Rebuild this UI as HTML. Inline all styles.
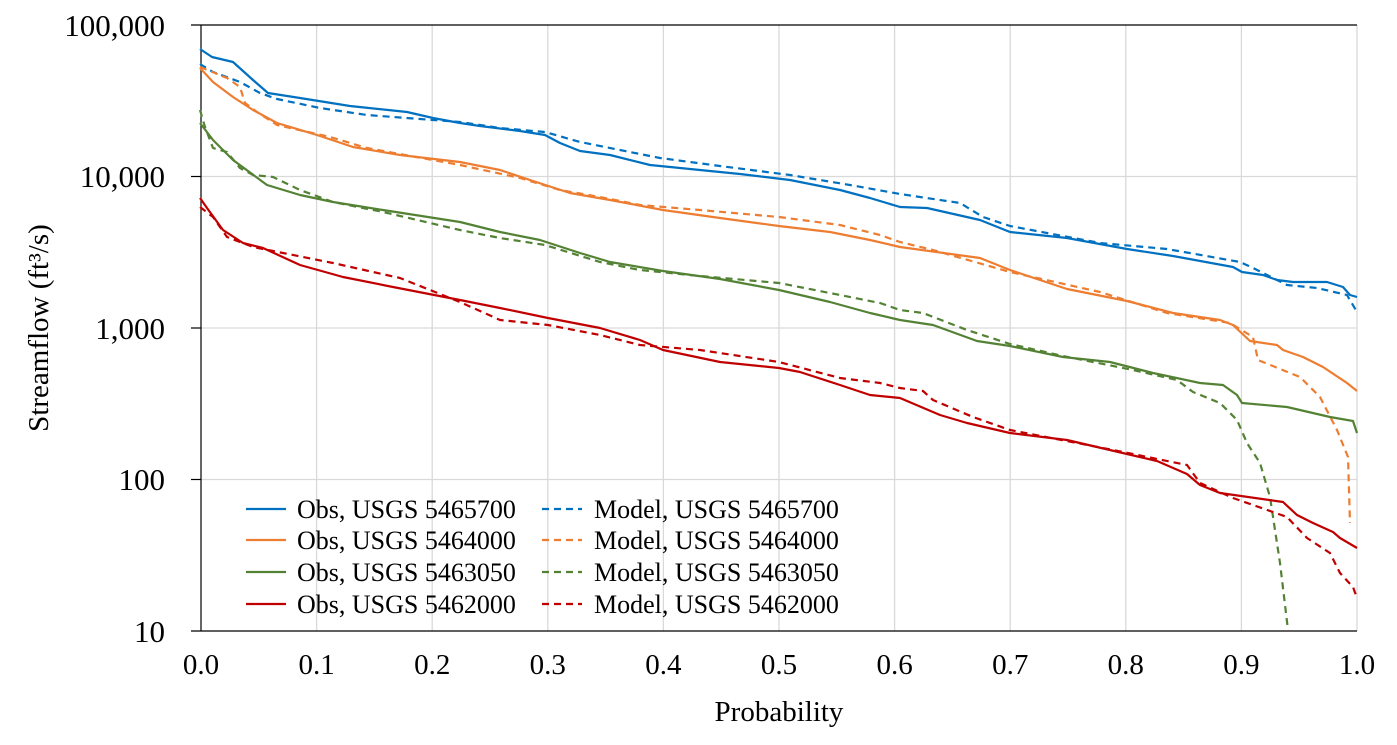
<!DOCTYPE html>
<html><head><meta charset="utf-8"><style>body{margin:0;background:#fff}svg{display:block}text{font-family:"Liberation Serif",serif;fill:#000}</style></head><body>
<svg width="1397" height="745" viewBox="0 0 1397 745" xmlns="http://www.w3.org/2000/svg">
<g stroke="#d9d9d9" stroke-width="1.3">
<line x1="316.6" y1="25" x2="316.6" y2="631"/><line x1="432.2" y1="25" x2="432.2" y2="631"/><line x1="547.8" y1="25" x2="547.8" y2="631"/><line x1="663.4" y1="25" x2="663.4" y2="631"/><line x1="779" y1="25" x2="779" y2="631"/><line x1="894.6" y1="25" x2="894.6" y2="631"/><line x1="1010.2" y1="25" x2="1010.2" y2="631"/><line x1="1125.8" y1="25" x2="1125.8" y2="631"/><line x1="1241.4" y1="25" x2="1241.4" y2="631"/><line x1="1357" y1="25" x2="1357" y2="631"/>
<line x1="201" y1="176.5" x2="1357" y2="176.5"/><line x1="201" y1="328" x2="1357" y2="328"/><line x1="201" y1="479.5" x2="1357" y2="479.5"/>
</g>
<g stroke="#000" stroke-width="1.2"><line x1="191" y1="25" x2="1357" y2="25"/><line x1="201" y1="25" x2="201" y2="631"/><line x1="191" y1="631" x2="1357" y2="631"/>
<line x1="191" y1="176.5" x2="201" y2="176.5"/><line x1="191" y1="328" x2="201" y2="328"/><line x1="191" y1="479.5" x2="201" y2="479.5"/></g>
<g font-size="31" text-anchor="end">
<text x="165" y="36">100,000</text><text x="165" y="187">10,000</text><text x="165" y="339">1,000</text><text x="165" y="490">100</text><text x="165" y="642">10</text></g>
<g font-size="29" text-anchor="middle">
<text x="201" y="674">0.0</text><text x="316.6" y="674">0.1</text><text x="432.2" y="674">0.2</text><text x="547.8" y="674">0.3</text><text x="663.4" y="674">0.4</text><text x="779" y="674">0.5</text><text x="894.6" y="674">0.6</text><text x="1010.2" y="674">0.7</text><text x="1125.8" y="674">0.8</text><text x="1241.4" y="674">0.9</text><text x="1357" y="674">1.0</text>
<text x="779" y="721">Probability</text>
<text transform="translate(48,328) rotate(-90)">Streamflow (ft³/s)</text></g>
<g fill="none" stroke-width="2.2" stroke-linejoin="round">
<polyline stroke="#0070c0" points="200,49 212,57 233,62 253,80 268,93 300,98 350,106 407,112 433,118 460,123 480,126 520,131 545,135 560,143 580,151 610,155 650,165 700,170 740,174 790,180 840,190 870,198 900,207 927,208 980,220 1010,232 1067,238 1127,249 1173,256 1233,267 1242,272 1263,275 1277,280 1293,282 1327,282 1343,287 1350,295 1357,297"/>
<polyline stroke="#0070c0" stroke-dasharray="7,5" points="200,64 213,72 240,82 260,93 277,99 320,108 367,115 433,120 460,122 500,128 545,132 580,142 620,150 660,158 720,166 790,175 850,185 900,194 960,203 983,217 1010,226 1100,243 1167,249 1240,262 1253,268 1273,278 1287,285 1317,288 1347,295 1357,312"/>
<polyline stroke="#ed7d31" points="200,68 213,82 233,97 253,110 277,123 317,135 353,147 400,155 460,162 500,170 530,180 570,193 610,200 663,210 720,218 779,226 830,232 870,240 900,247 980,258 1010,270 1067,289 1127,301 1173,313 1220,320 1233,325 1250,341 1277,345 1283,350 1303,357 1323,367 1347,383 1357,391"/>
<polyline stroke="#ed7d31" stroke-dasharray="7,5" points="200,67 227,78 240,87 245,103 257,112 277,125 330,137 367,148 460,165 520,178 560,190 600,197 640,205 700,210 779,217 840,225 880,235 900,242 933,250 1010,272 1100,292 1167,313 1230,323 1253,337 1258,360 1300,377 1320,397 1337,430 1348,457 1350,523"/>
<polyline stroke="#548235" points="200,123 213,140 233,160 267,185 300,195 333,202 383,210 460,222 500,232 540,240 580,253 610,262 663,271 720,279 779,290 830,302 870,313 900,320 933,325 977,341 1010,346 1063,357 1110,362 1153,373 1200,383 1223,385 1237,395 1242,403 1287,407 1330,417 1353,421 1357,433"/>
<polyline stroke="#548235" stroke-dasharray="7,5" points="200,110 205,127 213,148 227,152 240,168 253,175 273,177 300,190 333,202 383,212 460,230 500,238 545,245 600,262 640,270 700,276 779,283 840,295 880,303 900,310 923,313 967,330 1010,344 1063,356 1133,370 1177,380 1193,392 1220,403 1237,420 1247,443 1260,463 1270,497 1280,563 1288,630"/>
<polyline stroke="#c00000" points="200,198 207,208 223,230 243,243 263,248 300,265 343,277 393,287 460,300 500,308 548,318 600,328 640,340 663,350 720,362 779,368 800,372 840,385 870,395 900,398 940,415 967,423 1010,433 1067,440 1127,454 1157,461 1187,474 1200,485 1220,493 1283,502 1297,515 1313,523 1333,532 1340,538 1357,548"/>
<polyline stroke="#c00000" stroke-dasharray="7,5" points="200,207 213,217 227,237 253,247 283,253 333,263 400,278 460,302 500,320 548,325 600,335 640,345 700,350 779,362 840,378 880,383 900,388 923,391 933,400 973,417 1010,430 1113,450 1187,465 1200,483 1233,498 1253,505 1287,517 1307,538 1330,553 1340,573 1353,587 1357,598"/>
</g>
<g stroke-width="2.2">
<line x1="246" y1="509" x2="286" y2="509" stroke="#0070c0"/><line x1="246" y1="540" x2="286" y2="540" stroke="#ed7d31"/><line x1="246" y1="572" x2="286" y2="572" stroke="#548235"/><line x1="246" y1="604" x2="286" y2="604" stroke="#c00000"/>
<g stroke-dasharray="7,5"><line x1="542" y1="509" x2="582" y2="509" stroke="#0070c0"/><line x1="542" y1="540" x2="582" y2="540" stroke="#ed7d31"/><line x1="542" y1="572" x2="582" y2="572" stroke="#548235"/><line x1="542" y1="604" x2="582" y2="604" stroke="#c00000"/></g></g>
<g font-size="26">
<text x="297" y="518">Obs, USGS 5465700</text><text x="297" y="549">Obs, USGS 5464000</text><text x="297" y="581">Obs, USGS 5463050</text><text x="297" y="613">Obs, USGS 5462000</text>
<text x="594" y="518">Model, USGS 5465700</text><text x="594" y="549">Model, USGS 5464000</text><text x="594" y="581">Model, USGS 5463050</text><text x="594" y="613">Model, USGS 5462000</text></g>
</svg></body></html>
